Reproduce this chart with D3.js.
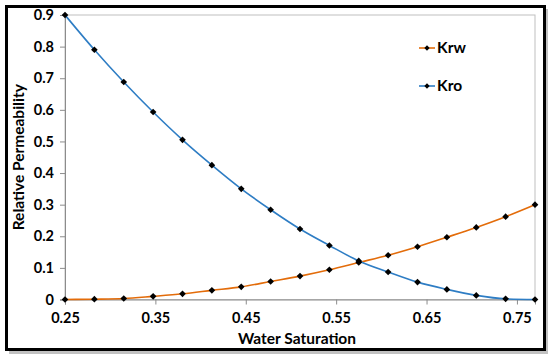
<!DOCTYPE html>
<html>
<head>
<meta charset="utf-8">
<script src="https://cdn.jsdelivr.net/npm/d3@7"></script>
<style>
  body { margin: 0; background: #fff; }
  text { font-family: Lato, "Open Sans", sans-serif; font-weight: bold; }
</style>
</head>
<body>
<div id="chart"></div>
<script>
// data
var sw = [0.25, 0.2825, 0.315, 0.3475, 0.38, 0.4125, 0.445, 0.4775, 0.51,
          0.5425, 0.575, 0.6075, 0.64, 0.6725, 0.705, 0.7375, 0.77];
var krw = [0, 0.001, 0.003, 0.010, 0.018, 0.029, 0.040, 0.057, 0.074,
           0.094, 0.117, 0.140, 0.167, 0.197, 0.228, 0.262, 0.300];
var kro = [0.900, 0.790, 0.688, 0.593, 0.505, 0.425, 0.350, 0.284, 0.223,
           0.171, 0.122, 0.087, 0.055, 0.032, 0.013, 0.002, 0];
var xTicks = [0.25, 0.35, 0.45, 0.55, 0.65, 0.75];
var yTicks = [0, 0.1, 0.2, 0.3, 0.4, 0.5, 0.6, 0.7, 0.8, 0.9];
var seriesNames = ["Krw", "Kro"];
var seriesColors = ["#e36c0a", "#2e7dc4"];

var W = 550, H = 357;
var margin = {top: 15, right: 15, bottom: 58, left: 65};

var svg = d3.select("#chart").append("svg")
  .attr("width", W).attr("height", H);

// frame with shadow
svg.append("rect")
  .attr("x", 9).attr("y", 9).attr("width", 539).attr("height", 345)
  .attr("fill", "#9a9a9a").attr("opacity", 0.6);
svg.append("rect")
  .attr("x", 6.5).attr("y", 6.5).attr("width", 538).attr("height", 343)
  .attr("fill", "#fff").attr("stroke", "#000").attr("stroke-width", 3);

var x = d3.scaleLinear().domain([0.25, 0.77]).range([margin.left, W - margin.right]);
var y = d3.scaleLinear().domain([0, 0.9]).range([299.5, margin.top]);

// plot area border
svg.append("rect")
  .attr("x", x(0.25)).attr("y", y(0.9))
  .attr("width", x(0.77) - x(0.25)).attr("height", y(0) - y(0.9))
  .attr("fill", "none").attr("stroke", "#bfbfbf").attr("stroke-width", 1);

// axes
var yAxis = svg.append("g")
  .attr("transform", "translate(" + x(0.25) + ",0)")
  .call(d3.axisLeft(y).tickValues(yTicks).tickSize(5).tickPadding(6)
    .tickFormat(function(d) { return d === 0 ? "0" : d3.format(".1f")(d); }));
var xAxis = svg.append("g")
  .attr("transform", "translate(0," + y(0) + ")")
  .call(d3.axisBottom(x).tickValues(xTicks).tickSize(5).tickPadding(8)
    .tickFormat(d3.format(".2f")));

[yAxis, xAxis].forEach(function(a) {
  a.select(".domain").attr("stroke", "#8c8c8c");
  a.selectAll(".tick line").attr("stroke", "#8c8c8c");
  a.selectAll(".tick text").attr("fill", "#000")
    .style("font-size", "14.5px").style("font-family", "Lato, sans-serif").style("font-weight", "bold");
});

// axis titles
svg.append("text")
  .attr("transform", "translate(24," + ((y(0) + y(0.9)) / 2) + ") rotate(-90)")
  .attr("text-anchor", "middle")
  .style("font-size", "15.5px")
  .text("Relative Permeability");
svg.append("text")
  .attr("x", 297).attr("y", 344)
  .attr("text-anchor", "middle")
  .style("font-size", "15.5px")
  .text("Water Saturation");

// lines
var series = [krw, kro];
var line = d3.line()
  .x(function(d, i) { return x(sw[i]); })
  .y(function(d) { return y(d); })
  .curve(d3.curveMonotoneX);

series.forEach(function(vals, k) {
  svg.append("path")
    .datum(vals)
    .attr("fill", "none")
    .attr("stroke", seriesColors[k])
    .attr("stroke-width", 1.6)
    .attr("d", line);
});

var diamond = d3.symbol().type(d3.symbolSquare).size(22);
series.forEach(function(vals, k) {
  svg.selectAll(".pt" + k)
    .data(vals)
    .join("path")
    .attr("transform", function(d, i) { return "translate(" + x(sw[i]) + "," + y(d) + ") rotate(45)"; })
    .attr("d", diamond)
    .attr("fill", "#000");
});

// legend
var legend = svg.selectAll(".leg")
  .data(seriesNames)
  .join("g")
  .attr("transform", function(d, i) { return "translate(419," + (48 + i * 38) + ")"; });
legend.append("line")
  .attr("x1", 0).attr("x2", 16)
  .attr("stroke", function(d, i) { return seriesColors[i]; })
  .attr("stroke-width", 1.6);
legend.append("path")
  .attr("transform", "translate(8,0) rotate(45)")
  .attr("d", d3.symbol().type(d3.symbolSquare).size(14))
  .attr("fill", "#000");
legend.append("text")
  .attr("x", 18).attr("dy", "0.35em")
  .style("font-size", "15.5px")
  .text(function(d) { return d; });
</script>
</body>
</html>
